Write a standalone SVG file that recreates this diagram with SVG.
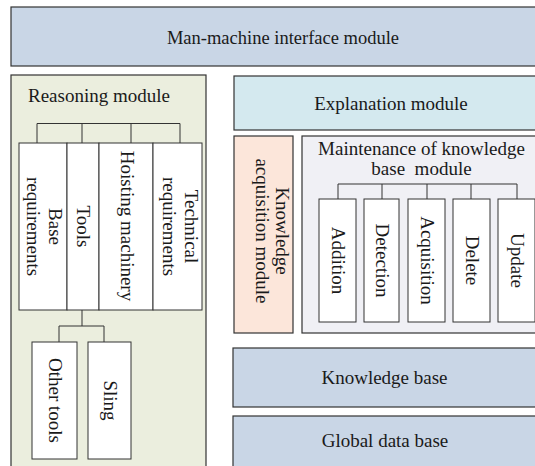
<svg xmlns="http://www.w3.org/2000/svg" width="535" height="466" viewBox="0 0 535 466">
<style>
.b{stroke:#333;stroke-width:1.2}
.w{fill:#fff;stroke:#333;stroke-width:1}
.t{font-family:"Liberation Serif","Times New Roman",serif;font-size:19px;fill:#1a1a1a;text-anchor:middle}
.c{fill:none;stroke:#333;stroke-width:1}
</style>
<rect width="535" height="466" fill="#fff"/>
<g id="hmi"><rect class="b" x="11" y="7" width="540" height="59" fill="#c9d6e6"/><text class="t" x="283" y="44" style="font-size:18.5px">Man-machine interface module</text></g>
<g id="reasoning"><rect class="b" x="11" y="75" width="195" height="400" fill="#ebeede"/><text class="t" x="99" y="102">Reasoning module</text></g>
<g id="base-req"><rect class="w" x="19" y="143" width="48" height="167"/><text class="t" transform="translate(43,226.5) rotate(90)"><tspan x="0" y="-6">Base</tspan><tspan x="0" y="16">requirements</tspan></text></g>
<g id="tools"><rect class="w" x="67" y="143" width="32" height="167"/><text class="t" transform="translate(83,226.5) rotate(90)" y="6">Tools</text></g>
<g id="hoisting"><rect class="w" x="99" y="143" width="54" height="167"/><text class="t" transform="translate(126,226) rotate(90)" y="5">Hoisting machinery</text></g>
<g id="tech-req"><rect class="w" x="153" y="143" width="49" height="167"/><text class="t" transform="translate(177.5,226.5) rotate(90)"><tspan x="0" y="-7">Technical</tspan><tspan x="0" y="15">requirements</tspan></text></g>
<g id="other-tools"><rect class="w" x="32" y="342" width="45" height="117"/><text class="t" transform="translate(54.5,400.5) rotate(90)" y="6">Other tools</text></g>
<g id="sling"><rect class="w" x="88" y="342" width="43" height="117"/><text class="t" transform="translate(109.5,400.5) rotate(90)" y="6">Sling</text></g>
<g id="explanation"><rect class="b" x="234" y="76" width="320" height="54" fill="#d4e9ef"/><text class="t" x="391" y="109.5">Explanation module</text></g>
<g id="knowledge-acq"><rect class="b" x="234" y="136" width="59" height="197" fill="#fce6da"/><text class="t" transform="translate(263.5,231) rotate(90)"><tspan x="0" y="-12">Knowledge</tspan><tspan x="0" y="8">acquisition module</tspan></text></g>
<g id="maintenance"><rect class="b" x="302" y="136" width="250" height="197" fill="#f0f0f5"/><text class="t" x="421.5" y="155">Maintenance of knowledge</text><text class="t" x="421.5" y="175" xml:space="preserve">base  module</text></g>
<g id="addition"><rect class="w" x="319" y="199" width="37" height="123"/><text class="t" transform="translate(337.5,260.5) rotate(90)" y="6">Addition</text></g>
<g id="detection"><rect class="w" x="364" y="199" width="35" height="123"/><text class="t" transform="translate(381.5,260.5) rotate(90)" y="6">Detection</text></g>
<g id="acquisition"><rect class="w" x="408" y="199" width="37" height="123"/><text class="t" transform="translate(426.5,260.5) rotate(90)" y="6">Acquisition</text></g>
<g id="delete"><rect class="w" x="453" y="199" width="37" height="123"/><text class="t" transform="translate(471.5,260.5) rotate(90)" y="6">Delete</text></g>
<g id="update"><rect class="w" x="498" y="199" width="37" height="123"/><text class="t" transform="translate(516.5,260.5) rotate(90)" y="6">Update</text></g>
<g id="knowledge-base"><rect class="b" x="233" y="348" width="320" height="59" fill="#c9d6e6"/><text class="t" x="384.5" y="383.5">Knowledge base</text></g>
<g id="global-db"><rect class="b" x="233" y="416" width="320" height="60" fill="#c9d6e6"/><text class="t" x="385" y="447">Global data base</text></g>
<g id="connectors">
<path class="c" d="M37,143V123.5H180V143M82,123.5V143M131,123.5V143"/>
<path class="c" d="M82,310V326M59,342V326H104V342"/>
<path class="c" d="M338,199V184H517V199M382,184V199M427,184V199M471,184V199"/>
</g>
</svg>
